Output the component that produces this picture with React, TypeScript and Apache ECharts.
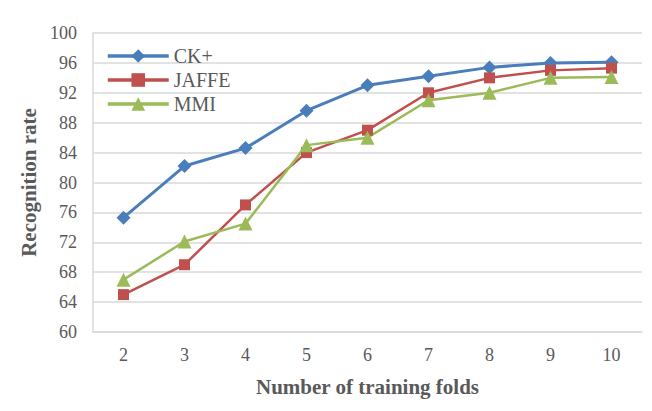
import React, { useEffect, useRef } from "react";
import * as echarts from "echarts";

const folds = ["2", "3", "4", "5", "6", "7", "8", "9", "10"];
const ckPlus = [75.3, 82.2, 84.6, 89.6, 93.0, 94.2, 95.4, 96.0, 96.1];
const jaffe = [65.0, 69.0, 77.0, 84.0, 87.0, 92.0, 94.0, 95.0, 95.3];
const mmi = [67.0, 72.1, 74.5, 85.0, 86.0, 91.0, 92.0, 94.0, 94.1];
const yTicks = { min: 60, max: 100, step: 4 };

const FONT = "'Liberation Serif', 'Times New Roman', serif";
const TEXT_GRAY = "#595959";

export default function App() {
  const ref = useRef<HTMLDivElement>(null);

  useEffect(() => {
    if (!ref.current) return;
    const chart = echarts.init(ref.current, null, { renderer: "svg" });

    const lineSeries = (
      name: string,
      data: number[],
      color: string,
      symbol: string,
      symbolSize: number,
      width: number
    ) => ({
      name,
      type: "line",
      data,
      symbol,
      symbolSize,
      showSymbol: true,
      itemStyle: { color },
      lineStyle: { color, width },
      z: 3,
    });

    chart.setOption({
      animation: false,
      backgroundColor: "#ffffff",
      graphic: [
        {
          type: "rect",
          shape: { x: 7, y: 6, width: 643, height: 403 },
          style: { fill: "none", stroke: "#d9d9d9", lineWidth: 1.5 },
          silent: true,
          z: -1,
        },
      ],
      grid: { left: 93, right: 10, top: 33, bottom: 79, containLabel: false },
      legend: {
        left: 101,
        top: 41,
        orient: "vertical",
        itemWidth: 61,
        itemHeight: 17,
        itemGap: 4,
        symbolKeepAspect: true,
        lineStyle: { width: 3.5 },
        textStyle: { fontFamily: FONT, fontSize: 20, color: TEXT_GRAY },
        data: ["CK+", "JAFFE", "MMI"],
      },
      xAxis: {
        type: "category",
        data: folds,
        boundaryGap: true,
        name: "Number of training folds",
        nameLocation: "middle",
        nameGap: 44,
        nameTextStyle: {
          fontFamily: FONT,
          fontSize: 21,
          fontWeight: "bold",
          color: TEXT_GRAY,
        },
        axisLine: { show: true, lineStyle: { color: "#d9d9d9", width: 1.5 } },
        axisTick: { show: false },
        axisLabel: {
          fontFamily: FONT,
          fontSize: 18,
          color: TEXT_GRAY,
          margin: 14,
        },
        splitLine: { show: false },
      },
      yAxis: {
        type: "value",
        min: yTicks.min,
        max: yTicks.max,
        interval: yTicks.step,
        name: "Recognition rate",
        nameLocation: "middle",
        nameGap: 53,
        nameTextStyle: {
          fontFamily: FONT,
          fontSize: 21,
          fontWeight: "bold",
          color: TEXT_GRAY,
        },
        axisLine: { show: true, lineStyle: { color: "#d9d9d9", width: 1.5 } },
        axisTick: { show: false },
        axisLabel: {
          fontFamily: FONT,
          fontSize: 18,
          color: TEXT_GRAY,
          margin: 16,
        },
        splitLine: { show: true, lineStyle: { color: "#d9d9d9", width: 1.5 } },
      },
      series: [
        lineSeries("CK+", ckPlus, "#4a7ebb", "diamond", 14, 3),
        lineSeries("JAFFE", jaffe, "#c0504d", "rect", 11, 2.5),
        lineSeries("MMI", mmi, "#9bbb59", "triangle", 14, 2.5),
      ],
    });

    return () => chart.dispose();
  }, []);

  return <div ref={ref} style={{ width: 652, height: 411, margin: -8 }} />;
}
